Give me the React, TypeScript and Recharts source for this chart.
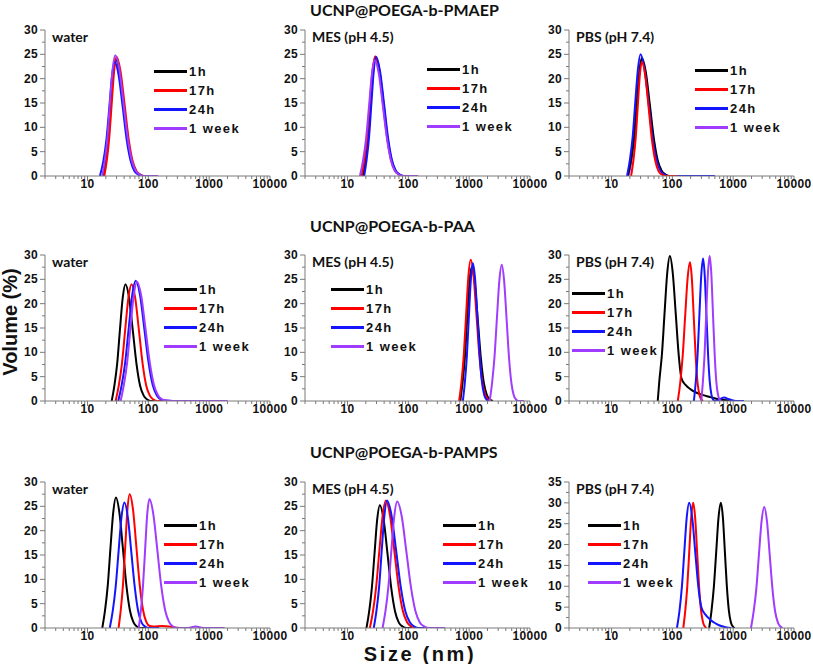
import { Legend, Line, LineChart, XAxis, YAxis } from 'recharts'

type Pt = [number, number]

const timeLabels = ['1h', '17h', '24h', '1 week']
const lineColors = ['#000000', '#ff0000', '#1414ff', '#a03cff']
const sizeTicks = [2, 3, 4, 5, 6, 7, 8, 9, 10, 20, 30, 40, 50, 60, 70, 80, 90, 100, 200, 300, 400, 500, 600, 700, 800, 900, 1000, 2000, 3000, 4000, 5000, 6000, 7000, 8000, 9000, 10000]
const labelledSizes = [10, 100, 1000, 10000]
const volumeTicks30 = [0, 2.5, 5, 7.5, 10, 12.5, 15, 17.5, 20, 22.5, 25, 27.5, 30]
const volumeTicks35 = [0, 2.5, 5, 7.5, 10, 12.5, 15, 17.5, 20, 22.5, 25, 27.5, 30, 32.5, 35]

// UCNP@POEGA-b-PMAEP, [size nm, volume %]
const pmaepWater1h: Pt[] = [[18.3, 0], [20.1, 3.2], [22, 7.8], [24.1, 14.6], [26.5, 21.2], [29, 24], [33.7, 21.2], [39.1, 14.6], [45.4, 7.8], [52.8, 3.2], [61.3, 1.1], [71.2, 0.3], [83, 0], [140, 0]]
const pmaepWater17h: Pt[] = [[18.9, 0], [20.8, 3.3], [22.8, 8], [25, 14.9], [27.4, 21.6], [30, 24.5], [34.8, 21.6], [40.5, 14.9], [47, 8], [54.6, 3.3], [63.4, 1.1], [73.7, 0.3], [85.5, 0], [130, 0]]
const pmaepWater24h: Pt[] = [[16, 0], [18.3, 3.2], [20.5, 7.6], [22.9, 14.3], [25.3, 20.7], [28, 23.5], [32.5, 20.7], [37.8, 14.3], [43.9, 7.6], [51, 3.2], [59.2, 1], [68.7, 0.3], [80, 0], [120, 0]]
const pmaepWater1w: Pt[] = [[17.5, 0], [19.3, 3.3], [21.3, 7.9], [23.4, 15.1], [25.9, 21.9], [28.5, 24.8], [33.3, 21.9], [38.9, 15.1], [45.4, 8.1], [53.1, 3.3], [62, 1.1], [72.4, 0.3], [84, 0], [145, 0]]
const pmaepMes1h: Pt[] = [[18, 0], [19.9, 3.3], [21.9, 7.9], [24, 14.8], [26.4, 21.4], [29, 24.3], [33.7, 21.4], [39.1, 14.8], [45.4, 7.9], [52.8, 3.3], [61.3, 1.1], [71.2, 0.3], [83, 0], [110, 0]]
const pmaepMes17h: Pt[] = [[17, 0], [19, 3.3], [21.1, 8], [23.3, 14.9], [25.8, 21.7], [28.5, 24.6], [33.1, 21.7], [38.4, 14.9], [44.7, 8], [51.9, 3.3], [60.2, 1.1], [70, 0.3], [81, 0], [120, 0]]
const pmaepMes24h: Pt[] = [[18.8, 0], [20.6, 3.3], [22.6, 8], [24.7, 14.9], [27, 21.6], [29.5, 24.5], [34.2, 21.6], [39.8, 14.9], [46.2, 8], [53.7, 3.3], [62.3, 1.1], [72.4, 0.3], [84, 0], [120, 0]]
const pmaepMes1w: Pt[] = [[16, 0], [18, 3.2], [20.2, 7.7], [22.6, 14.4], [25.2, 21], [28, 23.8], [32.7, 21], [38.1, 14.4], [44.5, 7.7], [51.8, 3.2], [60.4, 1], [70.4, 0.3], [82, 0], [145, 0]]
const pmaepPbs1h: Pt[] = [[18.5, 0], [21, 3.3], [23.5, 7.9], [26, 14.8], [28.8, 21.4], [31.5, 24.3], [36.6, 21.4], [42.5, 14.8], [49.4, 7.9], [57.3, 3.3], [66.6, 1.1], [77.3, 0.3], [90, 0], [150, 0]]
const pmaepPbs17h: Pt[] = [[21, 0], [22.9, 3.2], [24.9, 7.6], [27, 14.3], [29.2, 20.7], [31.5, 23.5], [35.8, 20.7], [40.6, 14.3], [46, 7.6], [52.3, 3.2], [59.3, 1], [67.3, 0.3], [77, 0], [120, 0]]
const pmaepPbs24h: Pt[] = [[18, 0], [20.1, 3.4], [22.3, 8.1], [24.6, 15.2], [27.2, 22], [30, 25], [34.8, 22], [40.5, 15.2], [47, 8.1], [54.6, 3.4], [63.4, 1.1], [73.7, 0.3], [86, 0], [500, 0]]
const pmaepPbs1w: Pt[] = [[19, 0], [21.3, 3.2], [23.6, 7.8], [26, 14.6], [28.5, 21.2], [31, 24], [36, 21.2], [41.8, 14.6], [48.6, 7.8], [56.4, 3.2], [65.5, 1.1], [76, 0.3], [88, 0], [130, 0]]

// UCNP@POEGA-b-PAA
const paaWater1h: Pt[] = [[25, 0], [27.7, 3.2], [30.8, 7.8], [34.1, 14.6], [37.9, 21.2], [42, 24], [48.2, 21.2], [55.4, 14.6], [63.6, 7.8], [73, 3.2], [83.8, 1.1], [96.2, 0.3], [110, 0], [160, 0]]
const paaWater17h: Pt[] = [[29, 0], [32.7, 3.2], [36.9, 7.8], [41.6, 14.6], [47, 21.2], [53, 24], [60.8, 21.2], [69.9, 14.6], [80.3, 7.8], [92.2, 3.2], [105.8, 1.1], [121.5, 0.3], [140, 0], [200, 0]]
const paaWater24h: Pt[] = [[32, 0], [36.5, 3.3], [41.7, 8], [47.6, 15], [54.3, 21.8], [62, 24.7], [72.9, 21.8], [85.6, 15], [100.6, 8], [118, 3.3], [138.8, 1.1], [163, 0.3], [192, 0.1], [240, 0], [1000, 0]]
const paaWater1w: Pt[] = [[35, 0], [39.6, 3.3], [44.9, 8], [50.7, 14.9], [57.4, 21.6], [65, 24.5], [76.4, 21.6], [89.7, 14.9], [105.4, 8], [123.8, 3.3], [145.5, 1.1], [171, 0.3], [201, 0.1], [260, 0], [2000, 0]]
const paaMes1h: Pt[] = [[714, 0], [778, 3.7], [849, 8.9], [925, 16.7], [1009, 24.3], [1100, 27.5], [1234, 24.3], [1385, 16.7], [1554, 8.9], [1743, 3.7], [1956, 1.2], [2195, 0.3], [2460, 0]]
const paaMes17h: Pt[] = [[684, 0], [747, 3.9], [815, 9.4], [890, 17.6], [971, 25.6], [1060, 29], [1183, 25.6], [1320, 17.6], [1471, 9.4], [1642, 3.9], [1832, 1.3], [2044, 0.3], [2266, 0]]
const paaMes24h: Pt[] = [[787, 0], [849, 3.8], [916, 9.2], [988, 17.2], [1066, 25], [1150, 28.3], [1253, 25], [1367, 17.2], [1491, 9.2], [1625, 3.8], [1771, 1.2], [1931, 0.3], [2093, 0]]
const paaMes1w: Pt[] = [[2176, 0], [2384, 3.8], [2610, 9.1], [2858, 17], [3132, 24.7], [3430, 28], [3756, 24.7], [4116, 17], [4507, 9.1], [4936, 3.8], [5405, 1.2], [5920, 0.3], [6400, 0], [8000, 0]]
const paaPbs1h: Pt[] = [[57.5, 0], [61, 4], [67.5, 9.7], [74.5, 18.1], [82.4, 26.3], [91, 29.8], [101.6, 26.3], [113.5, 18.1], [126.8, 9.7], [141.6, 4.6], [165, 3.3], [200, 2.4], [250, 1.7], [320, 1.2], [420, 0.8], [550, 0.4], [700, 0.2], [900, 0.05], [1000, 0], [1500, 0]]
const paaPbs17h: Pt[] = [[123, 0], [135, 3.8], [148, 9.3], [162.2, 17.3], [177.9, 25.1], [195, 28.5], [209.5, 25.1], [224.8, 17.3], [241.6, 9.3], [259.4, 3.8], [278.7, 1.3], [299.3, 0.3], [321, 0]]
const paaPbs24h: Pt[] = [[226, 0], [243, 4], [260, 9.5], [278.7, 17.8], [298.5, 25.8], [320, 29.3], [340.8, 25.8], [363, 17.8], [386.9, 9.5], [412, 4], [439, 1.3], [468, 0.3], [496, 0], [580, 0.2], [650, 0.6], [720, 0.7], [800, 0.5], [950, 0.15], [1100, 0], [1500, 0]]
const paaPbs1w: Pt[] = [[299, 0], [318, 4], [339, 9.7], [361, 18.1], [385, 26.3], [410, 29.8], [436.7, 26.3], [465, 18.1], [496, 9.7], [528, 4], [562.5, 1.3], [599, 0.3], [635, 0]]

// UCNP@POEGA-b-PAMPS
const pampsWater1h: Pt[] = [[17.5, 0], [19.4, 3.6], [21.5, 8.7], [23.8, 16.3], [26.4, 23.6], [29.3, 26.8], [33.5, 23.6], [38.2, 16.3], [43.6, 8.7], [49.8, 3.6], [56.8, 1.2], [64.8, 0.3], [73.6, 0], [100, 0]]
const pampsWater17h: Pt[] = [[32.4, 0], [35.2, 3.7], [38.3, 8.9], [41.7, 16.7], [45.3, 24.3], [49.3, 27.5], [56, 24.3], [63.5, 16.7], [72.1, 8.9], [81.8, 3.7], [92.9, 1.2], [105.4, 0.4], [121, 0.3], [170, 0.4], [250, 0.2], [320, 0]]
const pampsWater24h: Pt[] = [[23.2, 0], [26, 3.5], [29, 8.4], [32.4, 15.7], [36.2, 22.8], [40.4, 25.8], [46, 22.8], [52.4, 15.7], [59.8, 8.4], [68, 3.5], [77.5, 1.1], [88.4, 0.3], [101.5, 0], [150, 0]]
const pampsWater1w: Pt[] = [[69.5, 0], [75.4, 3.6], [81.6, 8.6], [88.5, 16.1], [95.9, 23.4], [104, 26.5], [120.7, 23.4], [140.3, 16.1], [163, 8.6], [189.3, 3.6], [219.8, 1.2], [255, 0.3], [293, 0], [450, 0], [600, 0.3], [800, 0], [1800, 0]]
const pampsMes1h: Pt[] = [[20.5, 0], [22.7, 3.4], [25.1, 8.2], [27.8, 15.3], [30.7, 22.2], [34, 25.2], [39.3, 22.2], [45.4, 15.3], [52.4, 8.2], [60.5, 3.4], [69.8, 1.1], [80.6, 0.3], [93.6, 0], [150, 0]]
const pampsMes17h: Pt[] = [[23.3, 0], [26.3, 3.5], [29.6, 8.5], [33.4, 15.9], [37.8, 23.1], [42.6, 26.2], [50, 23.1], [58.8, 15.9], [69.1, 8.5], [81.2, 3.5], [95.4, 1.2], [112, 0.3], [131.6, 0], [200, 0]]
const pampsMes24h: Pt[] = [[27, 0], [29.9, 3.5], [33.1, 8.5], [36.5, 15.9], [40.4, 23.1], [44.6, 26.2], [53, 23.1], [63, 15.9], [74.9, 8.5], [89, 3.5], [105.7, 1.2], [125.7, 0.3], [147.7, 0], [250, 0]]
const pampsMes1w: Pt[] = [[37.7, 0], [42.1, 3.5], [47, 8.5], [52.5, 15.8], [58.6, 22.9], [65.5, 26], [77.9, 22.9], [92.6, 15.8], [110, 8.5], [130.7, 3.5], [155.3, 1.1], [184.6, 0.3], [216.9, 0], [400, 0]]
const pampsPbs1h: Pt[] = [[403, 0], [440, 4.1], [481, 9.8], [526, 18.2], [574.6, 26.5], [628, 30], [677.6, 26.5], [731, 18.2], [788.8, 9.8], [851, 4.1], [918, 1.3], [991, 0.3], [1066, 0]]
const pampsPbs17h: Pt[] = [[151.3, 0], [163, 4.1], [175.7, 9.8], [189.5, 18.2], [204, 26.5], [220, 30], [237, 26.5], [255.4, 18.2], [275.4, 9.8], [296.8, 4.1], [320, 1.3], [344.7, 0.3], [365, 0]]
const pampsPbs24h: Pt[] = [[119, 0], [131, 4.1], [143.4, 9.8], [157.2, 18.2], [172.4, 26.5], [189, 30], [212, 26.5], [238, 18.2], [267, 10], [300, 5], [350, 3.2], [420, 2], [500, 1.2], [600, 0.6], [750, 0.2], [930, 0]]
const pampsPbs1w: Pt[] = [[1964, 0], [2170, 3.9], [2402, 9.4], [2651, 17.6], [2932, 25.6], [3240, 29], [3593, 25.6], [3985, 17.6], [4423, 9.4], [4905, 3.9], [5440, 1.3], [6033, 0.3], [6464, 0]]

const AXIS_W = 40
const PLOT_W = 225
const PLOT_H = 146
const M_TOP = 10
const M_RIGHT = 24
const X_H = 28
const axisColor = '#7a7a7a'
const tickFont = '"Liberation Sans", Arial, sans-serif'

const panels = [
  { left: 45, top: 30, label: 'water', series: [pmaepWater1h, pmaepWater17h, pmaepWater24h, pmaepWater1w], legendX: 109, legendY: 41 },
  { left: 305, top: 30, label: 'MES (pH 4.5)', series: [pmaepMes1h, pmaepMes17h, pmaepMes24h, pmaepMes1w], legendX: 122, legendY: 39 },
  { left: 569, top: 30, label: 'PBS (pH 7.4)', series: [pmaepPbs1h, pmaepPbs17h, pmaepPbs24h, pmaepPbs1w], legendX: 126, legendY: 40, order: [3, 0, 2, 1] },
  { left: 45, top: 255, label: 'water', series: [paaWater1h, paaWater17h, paaWater24h, paaWater1w], legendX: 119, legendY: 34 },
  { left: 305, top: 255, label: 'MES (pH 4.5)', series: [paaMes1h, paaMes17h, paaMes24h, paaMes1w], legendX: 26, legendY: 34 },
  { left: 569, top: 255, label: 'PBS (pH 7.4)', series: [paaPbs1h, paaPbs17h, paaPbs24h, paaPbs1w], legendX: 3, legendY: 38 },
  { left: 45, top: 482, label: 'water', series: [pampsWater1h, pampsWater17h, pampsWater24h, pampsWater1w], legendX: 119, legendY: 43 },
  { left: 305, top: 482, label: 'MES (pH 4.5)', series: [pampsMes1h, pampsMes17h, pampsMes24h, pampsMes1w], legendX: 138, legendY: 43 },
  { left: 569, top: 482, label: 'PBS (pH 7.4)', series: [pampsPbs1h, pampsPbs17h, pampsPbs24h, pampsPbs1w], legendX: 19, legendY: 43, ymax: 35 }
]

const titles = [
  { text: 'UCNP@POEGA-b-PMAEP', y: 16 },
  { text: 'UCNP@POEGA-b-PAA', y: 232 },
  { text: 'UCNP@POEGA-b-PAMPS', y: 458 }
]

function SizeTick(props: any) {
  const { x, y, payload } = props
  const major = labelledSizes.includes(payload.value)
  return (
    <g>
      <line x1={x} x2={x} y1={y} y2={y + (major ? 5 : 3)} stroke={axisColor} />
      {major && (
        <text x={x} y={y + 12} textAnchor="middle" fontFamily={tickFont} fontWeight="bold" fontSize={12} letterSpacing={0.3} fill="#111">
          {payload.value}
        </text>
      )}
    </g>
  )
}

function VolumeTick(props: any) {
  const { x, y, payload } = props
  const major = payload.value % 5 === 0
  return (
    <g>
      <line x1={x - (major ? 5 : 3)} x2={x} y1={y} y2={y} stroke={axisColor} />
      {major && (
        <text x={x - 7} y={y + 4} textAnchor="end" fontFamily={tickFont} fontWeight="bold" fontSize={12} letterSpacing={0.3} fill="#111">
          {payload.value}
        </text>
      )}
    </g>
  )
}

function TimeLegend() {
  return (
    <div>
      {timeLabels.map((name, i) => (
        <div key={name} style={{ display: 'flex', alignItems: 'center', height: 19 }}>
          <div style={{ width: 33, height: 3, background: lineColors[i] }} />
          <span style={{ marginLeft: 2, font: `bold 13px ${tickFont}`, letterSpacing: 1.4, color: '#111', whiteSpace: 'nowrap' }}>{name}</span>
        </div>
      ))}
    </div>
  )
}

function Panel({ left, top, series, legendX, legendY, order = [0, 1, 2, 3], ymax = 30 }: any) {
  return (
    <div style={{ position: 'absolute', left: left - AXIS_W, top: top - M_TOP }}>
      <LineChart width={AXIS_W + PLOT_W + M_RIGHT} height={M_TOP + PLOT_H + X_H} margin={{ top: M_TOP, right: M_RIGHT, bottom: 0, left: 0 }}>
        <XAxis
          type="number"
          dataKey="x"
          scale="log"
          domain={[2, 10000]}
          allowDataOverflow
          ticks={sizeTicks}
          interval={0}
          tick={SizeTick}
          tickLine={false}
          tickSize={0}
          tickMargin={0}
          height={X_H}
          axisLine={{ stroke: axisColor }}
        />
        <YAxis
          type="number"
          domain={[0, ymax]}
          allowDataOverflow
          ticks={ymax === 35 ? volumeTicks35 : volumeTicks30}
          interval={0}
          tick={VolumeTick}
          tickLine={false}
          tickSize={0}
          tickMargin={0}
          width={AXIS_W}
          axisLine={{ stroke: axisColor }}
        />
        {order.map((i: number) => (
          <Line
            key={timeLabels[i]}
            name={timeLabels[i]}
            data={series[i].map(([x, y]: Pt) => ({ x, y }))}
            dataKey="y"
            type="monotone"
            stroke={lineColors[i]}
            strokeWidth={2}
            dot={false}
            activeDot={false}
            isAnimationActive={false}
          />
        ))}
        <Legend
          layout="vertical"
          align="center"
          verticalAlign="middle"
          wrapperStyle={{ left: AXIS_W + legendX, top: M_TOP + legendY - 9.5, width: 110, height: 80 }}
          content={() => <TimeLegend />}
        />
      </LineChart>
    </div>
  )
}

export default function App() {
  return (
    <div style={{ position: 'absolute', left: 0, top: 0, width: 813, height: 664, background: '#fff', overflow: 'hidden' }}>
      {panels.map((p, i) => (
        <Panel key={i} {...p} />
      ))}
      <svg width={813} height={664} style={{ position: 'absolute', left: 0, top: 0, pointerEvents: 'none' }}>
        {titles.map((t) => (
          <text key={t.text} x={310} y={t.y} fontFamily="Lato, 'Open Sans', sans-serif" fontWeight="bold" fontSize={16} fill="#111">
            {t.text}
          </text>
        ))}
        {panels.map((p, i) => (
          <text key={i} x={p.left + 7} y={p.top + 12} fontFamily="Lato, 'Open Sans', sans-serif" fontWeight="bold" fontSize={14} fill="#111">
            {p.label}
          </text>
        ))}
        <text x={17} y={322} transform="rotate(-90 17 322)" textAnchor="middle" fontFamily={tickFont} fontWeight="bold" fontSize={20} fill="#111">
          Volume (%)
        </text>
        <text x={420} y={661} textAnchor="middle" fontFamily={tickFont} fontWeight="bold" fontSize={20} letterSpacing={2.6} fill="#111">
          Size (nm)
        </text>
      </svg>
    </div>
  )
}
